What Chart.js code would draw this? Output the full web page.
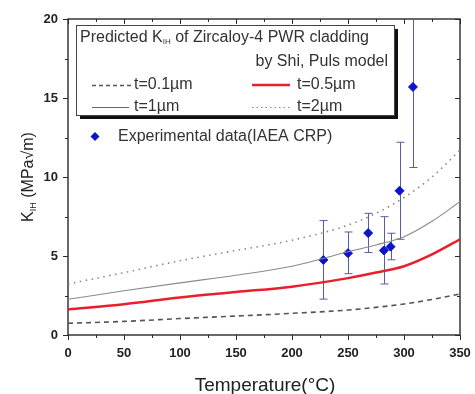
<!DOCTYPE html>
<html>
<head>
<meta charset="utf-8">
<script src="https://cdn.jsdelivr.net/npm/chart.js@4.4.0/dist/chart.umd.min.js"></script>
</head>
<body style="margin:0">
<canvas id="myChart" width="475" height="394"></canvas>
<script>
// temperature grid for the model curves (°C)
const temps = [0, 50, 100, 150, 200, 250, 275, 300, 325, 350];
// predicted KIH (MPa√m) for each oxide thickness
const k01 = [0.74, 0.86, 1.04, 1.20, 1.37, 1.58, 1.75, 1.96, 2.25, 2.60];
const k05 = [1.62, 1.95, 2.38, 2.72, 3.06, 3.60, 3.95, 4.35, 5.10, 6.06];
const k1  = [2.26, 2.80, 3.30, 3.78, 4.35, 5.27, 5.70, 6.22, 7.20, 8.44];
const k2  = [3.23, 3.95, 4.70, 5.35, 6.00, 6.95, 7.70, 8.70, 10.0, 11.7];

// experimental data (IAEA CRP)
const expT   = [228, 250, 268, 282, 288, 296, 308];
const expK   = [4.75, 5.18, 6.45, 5.35, 5.59, 9.13, 15.7];
const expHi  = [7.24, 6.52, 7.70, 7.49, 6.44, 12.2, 21.0];
const expLo  = [2.27, 3.88, 5.22, 3.23, 4.76, 6.06, 10.6];

const xTicks = [0, 50, 100, 150, 200, 250, 300, 350];
const yTicks = [0, 5, 10, 15, 20];

function pts(xs, ys) {
    return xs.map((x, i) => ({x: x, y: ys[i]}));
}

const FONT = '"Liberation Sans", Arial, sans-serif';

// frame, ticks, error bars (under the data)
const under = {
    id: 'under',
    beforeDatasetsDraw: (chart) => {
        const ctx = chart.ctx;
        const a = chart.chartArea;
        const sx = chart.scales.x, sy = chart.scales.y;
        const L = Math.round(a.left), R = Math.round(a.right);
        const T = Math.round(a.top), B = Math.round(a.bottom);
        ctx.save();
        ctx.strokeStyle = '#2a2a2a';
        ctx.lineWidth = 1.4;
        ctx.strokeRect(L, T, R - L, B - T);

        ctx.lineWidth = 1;
        ctx.beginPath();
        for (let v = 0; v <= 350; v += 25) {
            const px = Math.round(sx.getPixelForValue(v)) + 0.5;
            const len = (v % 50 === 0) ? 5 : 3;
            ctx.moveTo(px, B); ctx.lineTo(px, B + len);
            ctx.moveTo(px, T); ctx.lineTo(px, T + len);
        }
        for (let v = 0; v <= 20; v += 2.5) {
            const py = Math.round(sy.getPixelForValue(v)) + 0.5;
            const len = (v % 5 === 0) ? 5 : 3;
            ctx.moveTo(L, py); ctx.lineTo(L - len, py);
            ctx.moveTo(R, py); ctx.lineTo(R - len, py);
        }
        ctx.stroke();

        // error bars, clipped to the plot
        ctx.save();
        ctx.beginPath();
        ctx.rect(L, T, R - L, B - T);
        ctx.clip();
        ctx.strokeStyle = '#5a5aa8';
        ctx.lineWidth = 1;
        for (let i = 0; i < expT.length; i++) {
            const px = Math.round(sx.getPixelForValue(expT[i])) + 0.5;
            const yh = sy.getPixelForValue(expHi[i]);
            const yl = sy.getPixelForValue(expLo[i]);
            ctx.beginPath();
            ctx.moveTo(px, yh); ctx.lineTo(px, yl);
            ctx.moveTo(px - 4, yh); ctx.lineTo(px + 4, yh);
            ctx.moveTo(px - 4, yl); ctx.lineTo(px + 4, yl);
            ctx.stroke();
        }
        ctx.restore();

        // legend box with heavy shadow
        const bx = 76, by = 25, bw = 318, bh = 90;
        ctx.fillStyle = '#111';
        ctx.fillRect(bx + 4, by + 4, bw, bh);
        ctx.fillStyle = '#fff';
        ctx.fillRect(bx, by, bw, bh);
        ctx.strokeStyle = '#444';
        ctx.lineWidth = 1;
        ctx.strokeRect(bx + 0.5, by + 0.5, bw, bh);
        ctx.restore();
    }
};

// titles and legend entries on top
const over = {
    id: 'over',
    afterDraw: (chart) => {
        const ctx = chart.ctx;
        ctx.save();
        ctx.fillStyle = '#222';
        ctx.font = '19px ' + FONT;
        ctx.textAlign = 'center';
        ctx.textBaseline = 'alphabetic';
        ctx.fillText('Temperature(\u00B0C)', 265, 391);

        // y title, rotated, with subscript
        ctx.save();
        ctx.translate(27, 177);
        ctx.rotate(-Math.PI / 2);
        ctx.textAlign = 'left';
        const f1 = '16px ' + FONT, f2 = '9px ' + FONT;
        ctx.font = f1;
        const wK = ctx.measureText('K').width;
        ctx.font = f2;
        const wS = ctx.measureText('IH').width;
        ctx.font = f1;
        const wR = ctx.measureText(' (MPa\u221Am)').width;
        const sx = -(wK + wS + wR) / 2;
        ctx.fillText('K', sx, 6);
        ctx.font = f2;
        ctx.fillText('IH', sx + wK, 9);
        ctx.font = f1;
        ctx.fillText(' (MPa\u221Am)', sx + wK + wS, 6);
        ctx.restore();

        ctx.fillStyle = '#333';
        ctx.textBaseline = 'middle';
        ctx.textAlign = 'left';
        const f = '16px ' + FONT;
        ctx.font = f;
        ctx.fillText('Predicted K', 80, 38);
        const w = ctx.measureText('Predicted K').width;
        ctx.font = '8px ' + FONT;
        ctx.fillText('IH', 80 + w, 42);
        const w2 = ctx.measureText('IH').width;
        ctx.font = f;
        ctx.fillText(' of Zircaloy-4 PWR cladding', 80 + w + w2, 38);
        ctx.textAlign = 'right';
        ctx.fillText('by Shi, Puls model', 388, 62);
        ctx.textAlign = 'left';
        ctx.fillText('t=0.1\u00B5m', 134, 85);
        ctx.fillText('t=0.5\u00B5m', 297, 85);
        ctx.fillText('t=1\u00B5m', 134, 107);
        ctx.fillText('t=2\u00B5m', 297, 107);

        const sample = (x1, x2, yy, color, width, dash) => {
            ctx.beginPath();
            ctx.strokeStyle = color;
            ctx.lineWidth = width;
            ctx.setLineDash(dash);
            ctx.moveTo(x1, yy); ctx.lineTo(x2, yy);
            ctx.stroke();
        };
        sample(92, 131, 85.5, '#555', 1.5, [4, 3]);
        sample(252, 290, 85, '#e8202e', 2.5, []);
        sample(92, 129, 107.5, '#666', 1, []);
        sample(252, 290, 107.5, '#888', 1.2, [1.5, 3]);
        ctx.setLineDash([]);

        // experimental entry
        ctx.fillStyle = '#0a14c8';
        ctx.beginPath();
        ctx.moveTo(95, 132); ctx.lineTo(99.5, 136.5); ctx.lineTo(95, 141); ctx.lineTo(90.5, 136.5);
        ctx.closePath();
        ctx.fill();
        ctx.fillStyle = '#333';
        ctx.font = '16px ' + FONT;
        ctx.fillText('Experimental data(IAEA CRP)', 118, 137);
        ctx.restore();
    }
};

const data = {
    datasets: [{
        label: 't=0.1\u00B5m',
        data: pts(temps, k01),
        borderColor: '#555',
        borderWidth: 1.6,
        borderDash: [5, 4],
        showLine: true,
        pointRadius: 0,
        cubicInterpolationMode: 'monotone'
    }, {
        label: 't=0.5\u00B5m',
        data: pts(temps, k05),
        borderColor: '#e8202e',
        borderWidth: 2.5,
        showLine: true,
        pointRadius: 0,
        cubicInterpolationMode: 'monotone'
    }, {
        label: 't=1\u00B5m',
        data: pts(temps, k1),
        borderColor: '#8a8a8a',
        borderWidth: 1.1,
        showLine: true,
        pointRadius: 0,
        cubicInterpolationMode: 'monotone'
    }, {
        label: 't=2\u00B5m',
        data: pts(temps, k2),
        borderColor: '#888',
        borderWidth: 1.6,
        borderDash: [1.5, 4.5],
        showLine: true,
        pointRadius: 0,
        cubicInterpolationMode: 'monotone'
    }, {
        label: 'Experimental data(IAEA CRP)',
        data: pts(expT, expK),
        backgroundColor: '#0a14c8',
        borderColor: '#0a14c8',
        pointStyle: 'rectRot',
        pointRadius: 4.5,
        showLine: false
    }]
};

const config = {
    type: 'scatter',
    data,
    options: {
        responsive: false,
        animation: false,
        layout: { padding: { top: 19, right: 15, left: 0, bottom: 0 } },
        plugins: {
            legend: { display: false },
            tooltip: { enabled: false }
        },
        scales: {
            x: {
                type: 'linear',
                min: 0, max: 350,
                afterFit: (s) => { s.height = 59; s.paddingLeft = 0; s.paddingRight = 0; },
                afterBuildTicks: (s) => { s.ticks = xTicks.map(v => ({value: v})); },
                grid: { display: false, drawTicks: false },
                border: { display: false },
                ticks: {
                    padding: 11,
                    color: '#222',
                    font: { family: FONT, size: 13, weight: 'bold' }
                }
            },
            y: {
                type: 'linear',
                min: 0, max: 20,
                afterFit: (s) => { s.width = 68; s.paddingTop = 0; s.paddingBottom = 0; },
                afterBuildTicks: (s) => { s.ticks = yTicks.map(v => ({value: v})); },
                grid: { display: false, drawTicks: false },
                border: { display: false },
                ticks: {
                    padding: 10,
                    color: '#222',
                    font: { family: FONT, size: 13, weight: 'bold' }
                }
            }
        }
    },
    plugins: [under, over]
};

const myChart = new Chart(document.getElementById('myChart'), config);
</script>
</body>
</html>
